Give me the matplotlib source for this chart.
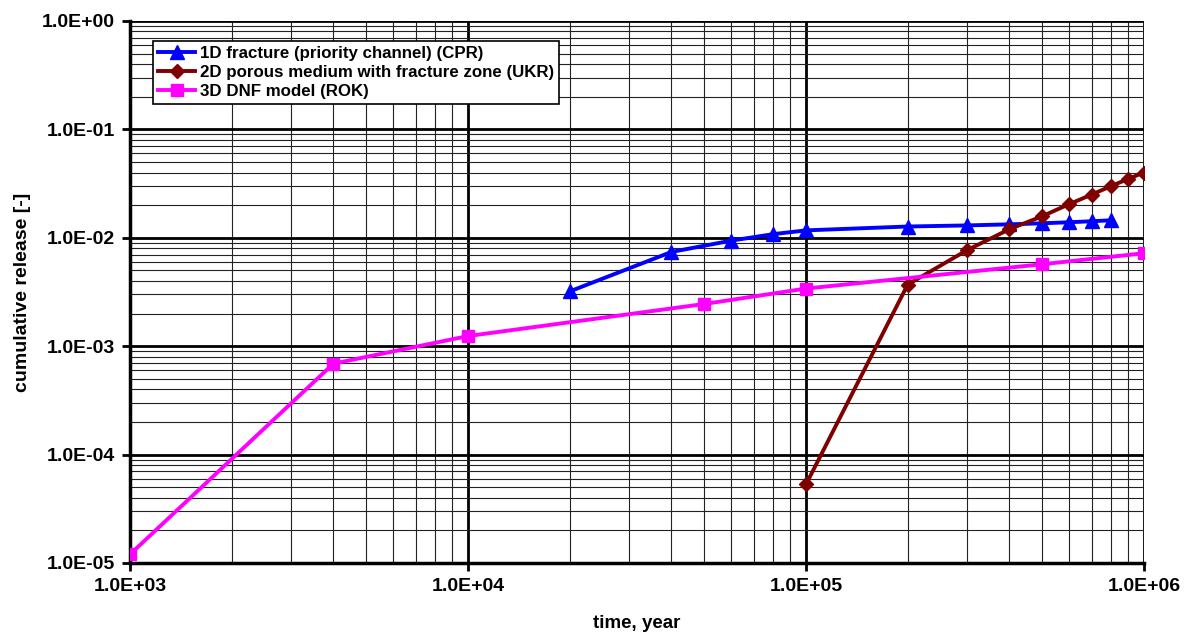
import matplotlib
matplotlib.use('Agg')
import matplotlib.pyplot as plt
from matplotlib.ticker import FuncFormatter, LogLocator, NullFormatter

plt.rcParams['font.family'] = ['Liberation Sans', 'DejaVu Sans']

# 1D fracture (priority channel) (CPR)
t_cpr = [2e4, 4e4, 6e4, 8e4, 1e5, 2e5, 3e5, 4e5, 5e5, 6e5, 7e5, 8e5]
r_cpr = [3.2e-3, 7.4e-3, 9.4e-3, 1.08e-2, 1.17e-2, 1.27e-2, 1.30e-2, 1.33e-2, 1.36e-2, 1.39e-2, 1.42e-2, 1.45e-2]

# 2D porous medium with fracture zone (UKR)
t_ukr = [1e5, 2e5, 3e5, 4e5, 5e5, 6e5, 7e5, 8e5, 9e5, 1e6]
r_ukr = [5.3e-5, 3.7e-3, 7.7e-3, 1.2e-2, 1.58e-2, 2.04e-2, 2.5e-2, 3.0e-2, 3.5e-2, 4.0e-2]

# 3D DNF model (ROK)
t_rok = [1e3, 4e3, 1e4, 5e4, 1e5, 5e5, 1e6]
r_rok = [1.2e-5, 6.9e-4, 1.24e-3, 2.45e-3, 3.4e-3, 5.7e-3, 7.2e-3]

fig = plt.figure(figsize=(11.92, 6.35), dpi=100)
ax = fig.add_axes([0.109, 0.1134, 0.8507, 0.8536])

ax.plot(t_cpr, r_cpr, color='#0000FF', lw=2.8, marker='^', ms=10,
        label='1D fracture (priority channel) (CPR)', zorder=4)
ax.plot(t_ukr, r_ukr, color='#800000', lw=2.8, marker='D', ms=7,
        label='2D porous medium with fracture zone (UKR)', zorder=4)
ax.plot(t_rok, r_rok, color='#FF00FF', lw=2.8, marker='s', ms=9,
        label='3D DNF model (ROK)', zorder=4)

ax.set_xscale('log')
ax.set_yscale('log')
ax.set_xlim(1e3, 1e6)
ax.set_ylim(1e-5, 1e0)

sci = FuncFormatter(lambda v, p: ('%.1E' % v))
ax.xaxis.set_major_formatter(sci)
ax.yaxis.set_major_formatter(sci)
ax.xaxis.set_minor_locator(LogLocator(base=10, subs=range(2, 10)))
ax.yaxis.set_minor_locator(LogLocator(base=10, subs=range(2, 10)))
ax.xaxis.set_minor_formatter(NullFormatter())
ax.yaxis.set_minor_formatter(NullFormatter())

ax.grid(which='major', color='black', lw=2.0)
ax.grid(which='minor', color='#222222', lw=0.8)
ax.set_axisbelow(True)

for s in ['top', 'right']:
    ax.spines[s].set_visible(False)
for s in ['left', 'bottom']:
    ax.spines[s].set_linewidth(2.5)

ax.tick_params(which='major', direction='out', length=6, width=2, labelsize=14, pad=5)
ax.tick_params(which='minor', length=0)
for lab in ax.get_xticklabels() + ax.get_yticklabels():
    lab.set_fontweight('bold')

ax.set_xlabel('time, year', fontsize=13.5, fontweight='bold', labelpad=14)
ax.set_ylabel('cumulative release [-]', fontsize=14, fontweight='bold', labelpad=8)

leg = ax.legend(loc='upper left', bbox_to_anchor=(0.0227, 0.963), borderaxespad=0,
                fancybox=False, framealpha=1, edgecolor='black',
                prop={'weight': 'bold', 'size': 12.2},
                handlelength=2.2, borderpad=0.3, labelspacing=0.22, handletextpad=0.25)
leg.get_frame().set_linewidth(1.2)

fig.savefig('out.png', dpi=100)
